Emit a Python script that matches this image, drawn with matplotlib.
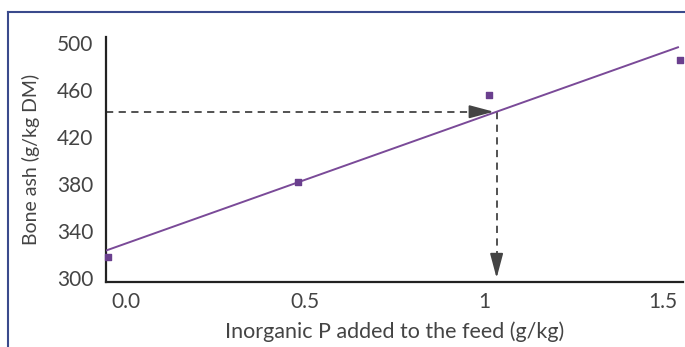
import matplotlib.pyplot as plt
import numpy as np
from matplotlib.lines import Line2D

plt.rcParams['font.family'] = ['Lato', 'DejaVu Sans']

### Data
p_added = [-0.05, 0.48, 1.014, 1.547]
bone_ash = [318, 382, 456, 485.5]
target_ash = 441.5

x_ticks = [0.0, 0.5, 1.0, 1.5]
x_tick_labels = ["0.0", "0.5", "1", "1.5"]
y_ticks = [300, 340, 380, 420, 460, 500]

# Least squares fit
x = np.array(p_added)
y = np.array(bone_ash)
a = np.sum((x - x.mean()) * (y - y.mean())) / np.sum((x - x.mean()) ** 2)
b = y.mean() - a * x.mean()
x_target = (target_ash - b) / a

### Plot
fig = plt.figure(figsize=(6.85, 3.47), dpi=100)
ax = fig.add_axes([106 / 685, 1 - 282 / 347, 577 / 685, 245 / 347])

x_min, x_max = -0.056, 1.556
y_min, y_max = 296.6, 505.1
ax.set_xlim(x_min, x_max)
ax.set_ylim(y_min, y_max)

# Fit line
xf = np.linspace(x_min, 1.542, 50)
ax.plot(xf, a * xf + b, color="#7a4a98", lw=1.4, zorder=3)
# Data points
ax.scatter(p_added, bone_ash, marker="s", s=14, color="#6a3f8e", zorder=4, clip_on=False)

# Dashed guides with arrows
grey = "#444444"
head = "-|>,head_length=1.5,head_width=0.4"
ax.plot([x_min, x_target - 0.06], [target_ash, target_ash], ls=(0, (4, 3)), color=grey, lw=1.3)
ax.plot([x_target, x_target], [target_ash, y_min + 12], ls=(0, (4, 3)), color=grey, lw=1.3)
ax.annotate("", xy=(x_target, target_ash), xytext=(x_target - 0.08, target_ash),
            arrowprops=dict(arrowstyle=head, color=grey, lw=1.3))
ax.annotate("", xy=(x_target, y_min + 1), xytext=(x_target, y_min + 18),
            arrowprops=dict(arrowstyle=head, color=grey, lw=1.3))

# Decorate
for s in ["top", "right"]:
    ax.spines[s].set_visible(False)
for s in ["left", "bottom"]:
    ax.spines[s].set_linewidth(1.6)
    ax.spines[s].set_color("#222222")
ax.set_xticks(x_ticks)
ax.set_xticklabels(x_tick_labels)
ax.set_yticks(y_ticks)
ax.tick_params(length=0, labelsize=15, colors="#444444")
ax.tick_params(axis="x", pad=7)
ax.tick_params(axis="y", pad=9)
ax.set_xlabel("Inorganic P added to the feed (g/kg)", fontsize=15.5, color="#444444", labelpad=7)
ax.set_ylabel("Bone ash (g/kg DM)", fontsize=14, color="#444444", labelpad=12)

# Frame lines of the figure
fig.add_artist(Line2D([8 / 685, 1], [1 - 12 / 347, 1 - 12 / 347], color="#3a4a8c", lw=1.5))
fig.add_artist(Line2D([8 / 685, 8 / 685], [0, 1 - 12 / 347], color="#3a4a8c", lw=1.5))

fig.savefig("out.png", dpi=100)
